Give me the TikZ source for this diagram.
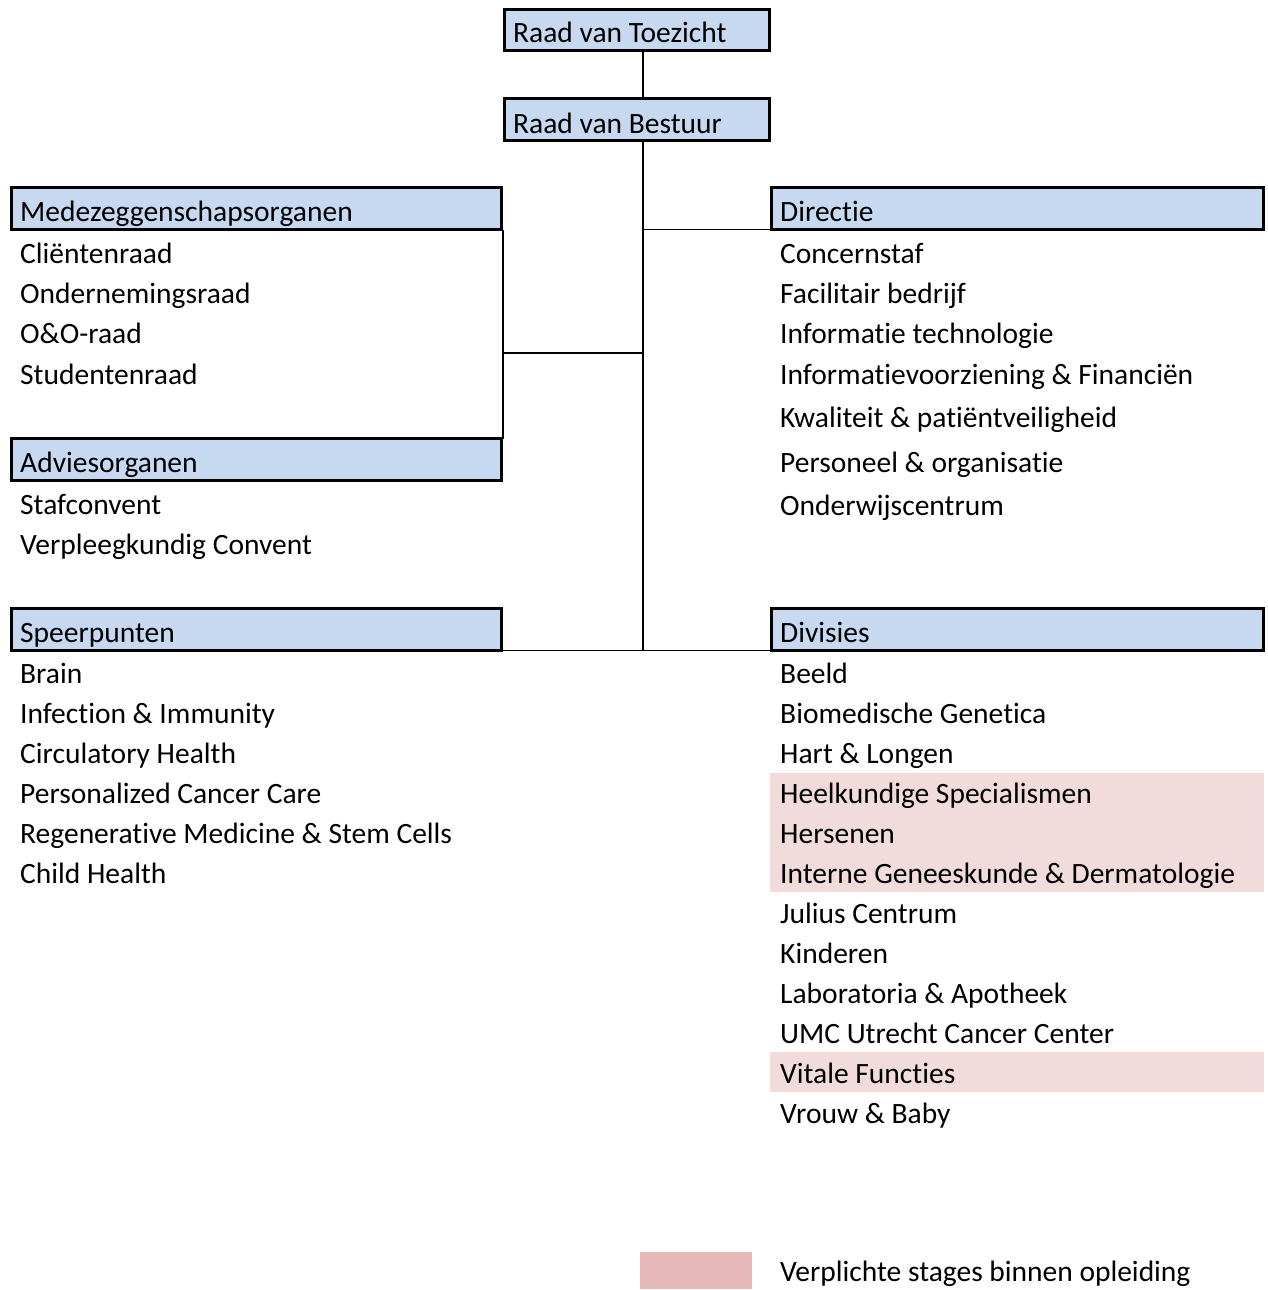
\documentclass[tikz,border=0pt]{standalone}
\usepackage{fontspec}
\setmainfont[Ligatures=NoCommon]{Carlito}
\definecolor{boxblue}{HTML}{C6D9F1}
\definecolor{bandpink}{HTML}{F2DCDB}
\definecolor{legendpink}{HTML}{E6B8B7}
\begin{document}
\begin{tikzpicture}[x=1pt,y=-1pt,
  font=\fontsize{29.5}{35}\selectfont,
  hdrbox/.style={draw=black,line width=3pt,fill=boxblue,anchor=north west,inner sep=0pt,outer sep=0pt,minimum height=42pt},
  itemtext/.style={anchor=base west,inner sep=0pt},
  conn/.style={line width=1.8pt},
  spineline/.style={line width=2.6pt}]
\useasboundingbox (0,0) rectangle (1268,1290);
\fill[white] (0,0) rectangle (1268,1290);
% pink bands
\fill[bandpink] (770,773) rectangle (1264,892);
\fill[bandpink] (770,1052) rectangle (1264,1092);
\fill[legendpink] (640,1252) rectangle (752,1289);
% boxes
\node[hdrbox,minimum width=265pt,minimum height=41pt] (rvt) at (504.5,9.5) {};
\node[hdrbox,minimum width=265pt] (rvb) at (504.5,98.5) {};
\node[hdrbox,minimum width=490pt] (mede) at (11.5,187.5) {};
\node[hdrbox,minimum width=490pt] (advies) at (11.5,438.5) {};
\node[hdrbox,minimum width=490pt] (speer) at (11.5,608.5) {};
\node[hdrbox,minimum width=492pt] (dir) at (771.5,187.5) {};
\node[hdrbox,minimum width=492pt] (div) at (771.5,608.5) {};
% connectors
\coordinate (spine) at (643,0);
\coordinate (lj) at (503,353);
\draw[spineline] (rvt.south -| spine) -- (rvb.north -| spine);
\draw[spineline] (rvb.south -| spine) -- (speer.south east -| spine);
\draw[conn] (dir.south west -| spine) -- (dir.south west);
\draw[conn] ([xshift=1.5pt]mede.south east) -- ([xshift=1.5pt]advies.north east);
\draw[conn] (lj) -- (lj -| spine);
\draw[conn] (speer.south east) -- (div.south west);
% header texts
\node[itemtext] (trvt) at (513,43) {Raad van Toezicht};
\node[itemtext] (trvb) at (513,133) {Raad van Bestuur};
\node[itemtext] (tmede) at (20,221) {Medezeggenschapsorganen};
\node[itemtext] (tadv) at (20,472) {Adviesorganen};
\node[itemtext] (tspeer) at (20,642) {Speerpunten};
\node[itemtext] (tdir) at (780,221) {Directie};
\node[itemtext] (tdiv) at (780,642) {Divisies};
% left lists
\node[itemtext] (m1) at (20,263) {Cliëntenraad};
\node[itemtext] (m2) at (20,303) {Ondernemingsraad};
\node[itemtext] (m3) at (20,343) {O\&O-raad};
\node[itemtext] (m4) at (20,384) {Studentenraad};
\node[itemtext] (a1) at (20,514) {Stafconvent};
\node[itemtext] (a2) at (20,554) {Verpleegkundig Convent};
\node[itemtext] (s1) at (20,683) {Brain};
\node[itemtext] (s2) at (20,723) {Infection \& Immunity};
\node[itemtext] (s3) at (20,763) {Circulatory Health};
\node[itemtext] (s4) at (20,803) {Personalized Cancer Care};
\node[itemtext] (s5) at (20,843) {Regenerative Medicine \& Stem Cells};
\node[itemtext] (s6) at (20,883) {Child Health};
% right lists
\node[itemtext] (d1) at (780,263) {Concernstaf};
\node[itemtext] (d2) at (780,303) {Facilitair bedrijf};
\node[itemtext] (d3) at (780,343) {Informatie technologie};
\node[itemtext] (d4) at (780,384) {Informatievoorziening \& Financiën};
\node[itemtext] (d5) at (780,427) {Kwaliteit \& patiëntveiligheid};
\node[itemtext] (d6) at (780,472) {Personeel \& organisatie};
\node[itemtext] (d7) at (780,515) {Onderwijscentrum};
\node[itemtext] (v1) at (780,683) {Beeld};
\node[itemtext] (v2) at (780,723) {Biomedische Genetica};
\node[itemtext] (v3) at (780,763) {Hart \& Longen};
\node[itemtext] (v4) at (780,803) {Heelkundige Specialismen};
\node[itemtext] (v5) at (780,843) {Hersenen};
\node[itemtext] (v6) at (780,883) {Interne Geneeskunde \& Dermatologie};
\node[itemtext] (v7) at (780,923) {Julius Centrum};
\node[itemtext] (v8) at (780,963) {Kinderen};
\node[itemtext] (v9) at (780,1003) {Laboratoria \& Apotheek};
\node[itemtext] (v10) at (780,1043) {UMC Utrecht Cancer Center};
\node[itemtext] (v11) at (780,1083) {Vitale Functies};
\node[itemtext] (v12) at (780,1123) {Vrouw \& Baby};
% legend
\node[itemtext] (leg) at (780,1281) {Verplichte stages binnen opleiding};
\end{tikzpicture}
\end{document}
